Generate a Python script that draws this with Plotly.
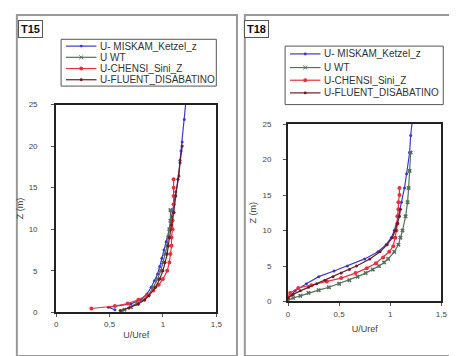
import plotly.graph_objects as go

W, H = 457, 356

names = ["U- MISKAM_Ketzel_z", "U WT", "U-CHENSI_Sini_Z", "U-FLUENT_DISABATINO"]

# ---- T15 ----
t15_miskam_z = [0.3, 0.6, 1.0, 1.5, 2.2, 3.0, 3.8, 4.6, 5.5, 6.5, 7.5, 8.5, 10.0, 11.5, 13.0, 14.5, 16.4, 18.3, 19.4, 20.5, 23.2, 26.0]
t15_miskam_u = [0.55, 0.49, 0.70, 0.79, 0.85, 0.89, 0.92, 0.95, 0.97, 0.99, 1.01, 1.03, 1.06, 1.08, 1.10, 1.12, 1.15, 1.16, 1.17, 1.18, 1.20, 1.22]
t15_wt_z = [0.1, 0.3, 0.6, 1.0, 1.5, 2.0, 3.0, 4.0, 5.0, 6.0, 7.0, 8.0, 9.0, 10.0, 11.0, 12.3]
t15_wt_u = [0.61, 0.64, 0.70, 0.76, 0.82, 0.86, 0.91, 0.95, 0.98, 1.00, 1.02, 1.04, 1.05, 1.06, 1.07, 1.07]
t15_chensi_z = [0.45, 0.75, 1.05, 1.5, 2.0, 2.6, 3.3, 4.0, 5.0, 6.0, 7.0, 8.0, 9.0, 10.0, 11.0, 12.0, 13.0, 14.0, 15.0, 16.0]
t15_chensi_u = [0.33, 0.55, 0.67, 0.77, 0.85, 0.91, 0.96, 1.00, 1.04, 1.06, 1.07, 1.08, 1.08, 1.09, 1.09, 1.10, 1.10, 1.10, 1.10, 1.10]
t15_fluent_z = [0.2, 0.5, 1.0, 1.5, 2.0, 3.0, 4.0, 5.0, 6.0, 7.0, 8.0, 9.0, 10.5, 12.0, 14.0, 16.0, 18.0, 20.0]
t15_fluent_u = [0.60, 0.68, 0.77, 0.83, 0.87, 0.93, 0.97, 1.00, 1.02, 1.04, 1.05, 1.06, 1.08, 1.10, 1.12, 1.14, 1.16, 1.18]

# ---- T18 ----
t18_miskam_z = [0.5, 1.5, 2.5, 3.5, 4.3, 5.0, 6.0, 7.0, 8.0, 9.0, 10.0, 12.0, 14.0, 16.0, 18.0, 21.0, 23.4, 26.0]
t18_miskam_u = [0.0, 0.07, 0.18, 0.30, 0.45, 0.58, 0.75, 0.88, 0.96, 1.01, 1.04, 1.08, 1.11, 1.14, 1.16, 1.19, 1.20, 1.22]
t18_wt_z = [0.2, 0.5, 0.8, 1.2, 1.6, 2.0, 2.5, 3.0, 3.5, 4.0, 4.5, 5.0, 5.5, 6.0, 7.0, 8.0, 9.0, 10.0, 12.0, 14.0, 16.0, 18.4, 21.0]
t18_wt_u = [0.0, 0.05, 0.12, 0.20, 0.30, 0.40, 0.50, 0.60, 0.68, 0.76, 0.83, 0.89, 0.94, 0.98, 1.04, 1.08, 1.10, 1.12, 1.15, 1.17, 1.18, 1.19, 1.20]
t18_chensi_z = [0.6, 1.2, 1.9, 2.3, 2.8, 3.3, 4.0, 4.7, 5.4, 6.2, 7.0, 7.8, 9.0, 10.0, 11.0, 12.0, 13.0, 14.0, 15.0, 16.0]
t18_chensi_u = [0.0, 0.02, 0.10, 0.23, 0.38, 0.52, 0.66, 0.77, 0.86, 0.93, 0.99, 1.03, 1.05, 1.06, 1.07, 1.07, 1.08, 1.08, 1.09, 1.09]
t18_fluent_z = [0.5, 1.0, 1.5, 2.0, 2.5, 3.0, 3.5, 4.0, 4.5, 5.0, 6.0, 7.0, 8.0, 9.0, 10.0, 11.0, 12.0, 13.0]
t18_fluent_u = [0.0, 0.05, 0.12, 0.20, 0.28, 0.36, 0.44, 0.52, 0.60, 0.67, 0.80, 0.90, 0.97, 1.02, 1.05, 1.07, 1.09, 1.10]

x_ticks = [0, 0.5, 1, 1.5]
x_ticktext = ["0", "0,5", "1", "1,5"]
y_ticks = [0, 5, 10, 15, 20, 25]

colors = ["#3b3bc8", "#56705a", "#e8303c", "#6a1c24"]
symbols = ["circle", "x", "circle", "circle"]
msizes = [3, 4, 4, 3]

FONT = "Liberation Sans, Arial, sans-serif"

fig = go.Figure()

panels = [
    ("x", "y", [(t15_miskam_u, t15_miskam_z), (t15_wt_u, t15_wt_z), (t15_chensi_u, t15_chensi_z), (t15_fluent_u, t15_fluent_z)]),
    ("x2", "y2", [(t18_miskam_u, t18_miskam_z), (t18_wt_u, t18_wt_z), (t18_chensi_u, t18_chensi_z), (t18_fluent_u, t18_fluent_z)]),
]
for xa, ya, series in panels:
    for i, (u, z) in enumerate(series):
        fig.add_trace(go.Scatter(
            x=u, y=z, mode="lines+markers", name=names[i], showlegend=False,
            line=dict(color=colors[i], width=1.2),
            marker=dict(color=colors[i], size=msizes[i], symbol=symbols[i]),
            xaxis=xa, yaxis=ya, cliponaxis=True,
        ))

def px_dom(a, b, total, flip=False):
    if flip:
        return [1 - b / total, 1 - a / total]
    return [a / total, b / total]

axis_common = dict(
    showline=True, mirror=True, linecolor="#222", linewidth=2,
    ticks="outside", ticklen=3, tickcolor="#555", tickwidth=1,
    showgrid=False, zeroline=False,
    tickfont=dict(family=FONT, size=8, color="#444"),
)
tfont = dict(family=FONT, size=9, color="#444")

fig.update_layout(
    width=W, height=H,
    margin=dict(l=0, r=0, t=0, b=0),
    paper_bgcolor="white", plot_bgcolor="white",
    font=dict(family=FONT, color="#333"),
    showlegend=False,
    xaxis=dict(domain=px_dom(47, 210, W), range=[0, 1.5], tickvals=x_ticks, ticktext=x_ticktext,
               ticklabelstandoff=0, title=dict(text="U/Uref", font=tfont, standoff=4), anchor="y", **axis_common),
    yaxis=dict(domain=px_dom(95, 308, H, flip=True), range=[0, 25], tickvals=y_ticks,
               ticklabelstandoff=12, title=dict(text="Z (m)", font=tfont, standoff=4), anchor="x", **axis_common),
    xaxis2=dict(domain=px_dom(283, 439, W), range=[0, 1.5], tickvals=x_ticks, ticktext=x_ticktext,
                ticklabelstandoff=1, title=dict(text="U/Uref", font=tfont, standoff=8), anchor="y2", **axis_common),
    yaxis2=dict(domain=px_dom(115, 297, H, flip=True), range=[0, 25], tickvals=y_ticks,
                ticklabelstandoff=10, title=dict(text="Z (m)", font=tfont, standoff=4), anchor="x2", **axis_common),
)

# panel frames
fig.add_shape(type="rect", xref="paper", yref="paper", x0=7 / W, x1=231 / W, y0=1 - 353 / H, y1=1 - 3 / H,
              line=dict(color="#999", width=2))
fig.add_shape(type="rect", xref="paper", yref="paper", x0=239 / W, x1=455 / W, y0=1 - 353 / H, y1=1 - 3 / H,
              line=dict(color="#999", width=2))

# panel tags
for label, x0 in [("T15", 8), ("T18", 238)]:
    fig.add_annotation(text="<b>" + label + "</b>", xref="paper", yref="paper",
                       x=x0 / W, y=1 - 8 / H, xanchor="left", yanchor="top", showarrow=False,
                       font=dict(family=FONT, size=11, color="#111"),
                       bordercolor="#555", borderwidth=1, borderpad=2, bgcolor="white")

# compact legends (box, sample lines, labels)
legends = [
    dict(box=(52, 28, 210, 76), rows=[35, 46.5, 58, 69.5], lx=(57, 88), tx=90, fs=10),
    dict(box=(280, 35, 441, 95), rows=[43, 57, 70, 83], lx=(285, 316), tx=318, fs=10),
]
for lg in legends:
    bx0, by0, bx1, by1 = lg["box"]
    fig.add_shape(type="rect", xref="paper", yref="paper", x0=bx0 / W, x1=bx1 / W,
                  y0=1 - by1 / H, y1=1 - by0 / H, line=dict(color="#555", width=1), fillcolor="white")
    for i, ry in enumerate(lg["rows"]):
        lx0, lx1 = lg["lx"]
        fig.add_shape(type="line", xref="paper", yref="paper", x0=lx0 / W, x1=lx1 / W,
                      y0=1 - ry / H, y1=1 - ry / H, line=dict(color=colors[i], width=1.2))
        cx = (lx0 + lx1) / 2
        if symbols[i] == "x":
            for d in (1, -1):
                fig.add_shape(type="line", xref="paper", yref="paper",
                              x0=(cx - 2) / W, x1=(cx + 2) / W,
                              y0=1 - (ry - 2 * d) / H, y1=1 - (ry + 2 * d) / H,
                              line=dict(color=colors[i], width=1))
        else:
            r = msizes[i] / 2
            fig.add_shape(type="circle", xref="paper", yref="paper",
                          x0=(cx - r) / W, x1=(cx + r) / W, y0=1 - (ry + r) / H, y1=1 - (ry - r) / H,
                          line=dict(color=colors[i], width=0), fillcolor=colors[i])
        fig.add_annotation(text=names[i], xref="paper", yref="paper", x=lg["tx"] / W, y=1 - ry / H,
                           xanchor="left", yanchor="middle", showarrow=False,
                           font=dict(family=FONT, size=lg["fs"], color="#333"))

fig.write_html("out.html")
